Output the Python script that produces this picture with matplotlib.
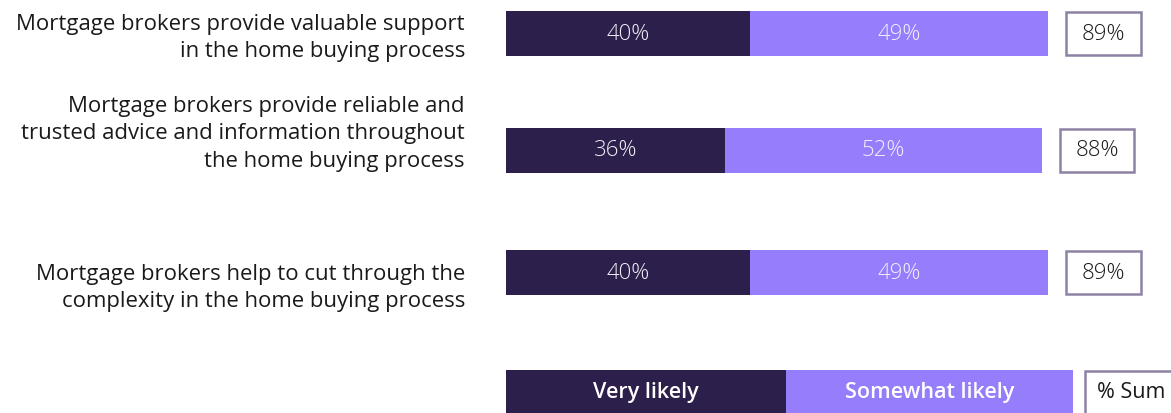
import matplotlib
matplotlib.use("Agg")
import matplotlib.pyplot as plt

# Survey statements and response shares (%)
statements = [
    "Mortgage brokers provide valuable support\nin the home buying process",
    "Mortgage brokers provide reliable and\ntrusted advice and information throughout\nthe home buying process",
    "Mortgage brokers help to cut through the\ncomplexity in the home buying process",
]
very_likely = [40, 36, 40]
somewhat_likely = [49, 52, 49]
sum_likely = [89, 88, 89]
legend_labels = ["Very likely", "Somewhat likely", "% Sum"]

DARK = "#2d1f4b"
LIGHT = "#957dfc"
BOX_EDGE = "#8d82a3"

plt.rcParams["font.family"] = ["Open Sans", "DejaVu Sans"]

W, H = 1171, 414
fig = plt.figure(figsize=(W / 100, H / 100), dpi=100)
ax = fig.add_axes([0, 0, 1, 1])

# x axis in percent, with 0 % at the bar origin; y axis in pixel rows
px_per_pct = 6.09
origin_px = 506
ax.set_xlim(-origin_px / px_per_pct, (W - origin_px) / px_per_pct)
ax.set_ylim(H, 0)
ax.axis("off")

row_y = [34.5, 151, 273.5]
label_y = [38, 134, 288]
bar_h = 45
label_x = -(origin_px - 465) / px_per_pct
gap = 3.0
box_w = 12.2
FS_LABEL = 15.9
FS_VAL = 16

for i in range(len(statements)):
    y = row_y[i]
    ax.barh(y, very_likely[i], height=bar_h, left=0, color=DARK)
    ax.barh(y, somewhat_likely[i], height=bar_h, left=very_likely[i], color=LIGHT)
    ax.text(very_likely[i] / 2, y, f"{very_likely[i]}%", color="#f2f0f7",
            ha="center", va="center", fontsize=FS_VAL, fontweight="light")
    ax.text(very_likely[i] + somewhat_likely[i] / 2, y, f"{somewhat_likely[i]}%",
            color="#f2f0f7", ha="center", va="center", fontsize=FS_VAL, fontweight="light")
    bx = sum_likely[i] + gap
    ax.barh(y, box_w, height=bar_h - 2, left=bx, color="white",
            edgecolor=BOX_EDGE, linewidth=1.8)
    ax.text(bx + box_w / 2, y, f"{sum_likely[i]}%", color="#1a1a1a",
            ha="center", va="center", fontsize=FS_VAL, fontweight="light")
    ax.text(label_x, label_y[i], statements[i], ha="right", va="center",
            fontsize=FS_LABEL, color="#1a1a1a", linespacing=1.42)

# Legend row drawn as a key bar beneath the data
ly = 393
l1 = 280 / px_per_pct
l2 = 287 / px_per_pct
l3 = (1085 - origin_px) / px_per_pct
ax.barh(ly, l1, height=bar_h, left=0, color=DARK)
ax.barh(ly, l2, height=bar_h, left=l1, color=LIGHT)
ax.barh(ly, 20, height=bar_h - 2, left=l3, color="white",
        edgecolor=BOX_EDGE, linewidth=1.8, clip_on=False)
ax.text(l1 / 2, ly, legend_labels[0], color="white", ha="center", va="center",
        fontsize=15.5, fontweight="semibold")
ax.text(l1 + l2 / 2, ly, legend_labels[1], color="white", ha="center", va="center",
        fontsize=15.5, fontweight="semibold")
ax.text(l3 + 1.9, ly, legend_labels[2], color="#1a1a1a", ha="left", va="center",
        fontsize=15.5)

fig.savefig("out.png", dpi=100)
